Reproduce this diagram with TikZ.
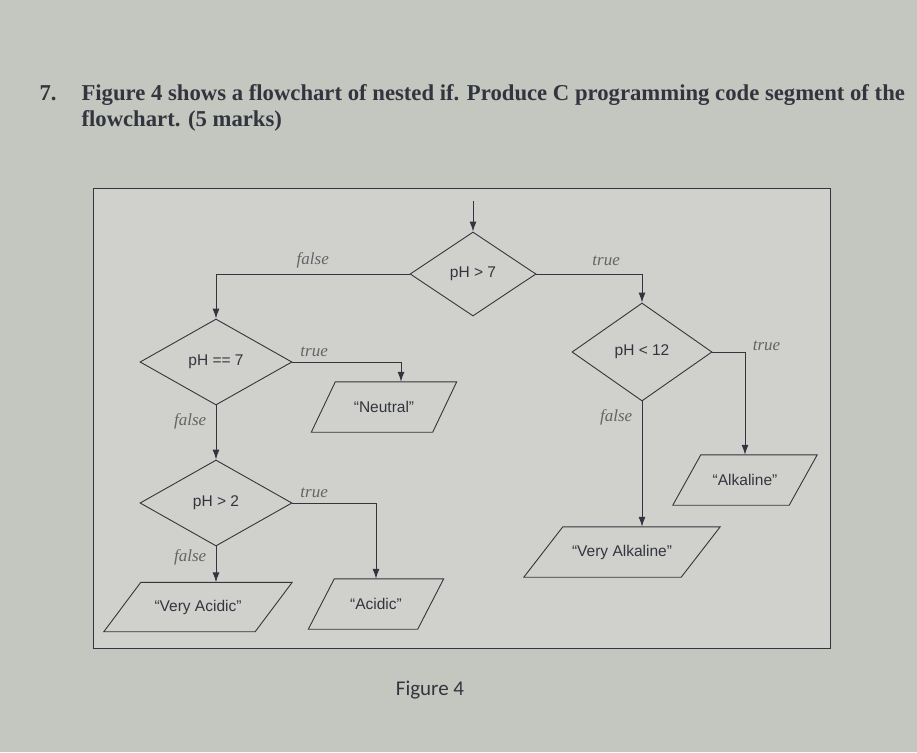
\documentclass[tikz,border=0pt]{standalone}
\usepackage{fontspec}
\setmainfont{Liberation Serif}
\newfontfamily\arialf{Liberation Sans}
\newfontfamily\calib{Carlito}
\usetikzlibrary{shapes.geometric,arrows.meta}
\definecolor{bg}{RGB}{196,198,192}
\definecolor{panel}{RGB}{208,209,204}
\definecolor{ink}{RGB}{50,53,62}
\definecolor{lbl}{RGB}{100,100,104}
\newcommand\paraframe[2]{%
  \draw[ink, line width=0.9pt]
    ([xshift={#2/2}]#1.north west) -- ([xshift={#2/2}]#1.north east)
    -- ([xshift={-#2/2}]#1.south east) -- ([xshift={-#2/2}]#1.south west) -- cycle;}
\begin{document}
\begin{tikzpicture}[x=1pt,y=-1pt,
  dec/.style={diamond, draw=ink, line width=0.9pt, inner sep=0pt,
    font=\arialf\fontsize{15.5}{17}\selectfont, text=ink},
  io/.style={rectangle, inner sep=0pt, minimum height=50pt,
    font=\arialf\fontsize{15.5}{17}\selectfont, text=ink},
  arr/.style={draw=ink, line width=1pt, -{Latex[length=10pt,width=7pt]}},
  lab/.style={font=\itshape\fontsize{17}{19}\selectfont, text=lbl},
  qtext/.style={anchor=base west, font=\bfseries\fontsize{22.7}{26}\selectfont, text=ink}]
\fill[bg] (0,0) rectangle (917,752);
\useasboundingbox (0,0) rectangle (917,752);
% question text
\node[qtext] (num) at (36,100) {7.};
\node[qtext] (q1) at (78,100)
  {Figure 4 shows a flowchart of nested if. Produce C programming code segment of the};
\node[qtext] (q2) at (78,126) {flowchart. (5 marks)};
% panel
\draw[ink, line width=1pt, fill=panel] (93,188) rectangle (830,648);
% decisions
\node[dec, minimum width=126pt, minimum height=84pt] (gt7) at (473,274) {pH > 7};
\node[dec, minimum width=152pt, minimum height=86pt] (eq7) at (216,362) {pH == 7};
\node[dec, minimum width=140pt, minimum height=98pt] (lt12) at (642,352) {pH < 12};
\node[dec, minimum width=152pt, minimum height=86pt] (gt2) at (216,503) {pH > 2};
% outputs
\node[io, minimum width=121pt] (neutral) at (384,407) {“Neutral”};
\paraframe{neutral}{24}
\node[io, minimum width=151pt, minimum height=49pt] (vacid) at (198,607) {“Very Acidic”};
\paraframe{vacid}{37}
\node[io, minimum width=109pt] (acid) at (376,604) {“Acidic”};
\paraframe{acid}{26}
\node[io, minimum width=116pt] (alk) at (745,480) {“Alkaline”};
\paraframe{alk}{28}
\node[io, minimum width=157pt] (valk) at (622,552) {“Very Alkaline”};
\paraframe{valk}{39}
% entry
\coordinate (start) at (473,201);
\draw[arr] (start) -- (gt7.north);
% connectors
\draw[arr] (gt7.west) -| (eq7.north) node[lab, pos=0.25, above=2pt] {false};
\draw[arr] (gt7.east) -| (lt12.north) node[lab, pos=0.33, above=4pt] {true};
\draw[arr] (eq7.east) -| ([xshift=17pt]neutral.north) node[lab, pos=0.1, above=1pt] {true};
\draw[arr] (eq7.south) -- (gt2.north) node[lab, pos=0.3, left=6pt] {false};
\draw[arr] (gt2.east) -| (acid.north) node[lab, pos=0.13, above=1pt] {true};
\draw[arr] (gt2.south) -- ([xshift=18pt]vacid.north) node[lab, pos=0.3, left=6pt] {false};
\draw[arr] (lt12.east) -| (alk.north) node[lab, pos=0.5, right=4pt, yshift=6pt] {true};
\draw[arr] (lt12.south) -- ([xshift=20pt]valk.north) node[lab, pos=0.13, left=6pt] {false};
% caption
\node[font=\calib\fontsize{21}{24}\selectfont, text=ink] (cap) at (430,690) {Figure 4};
\end{tikzpicture}
\end{document}
